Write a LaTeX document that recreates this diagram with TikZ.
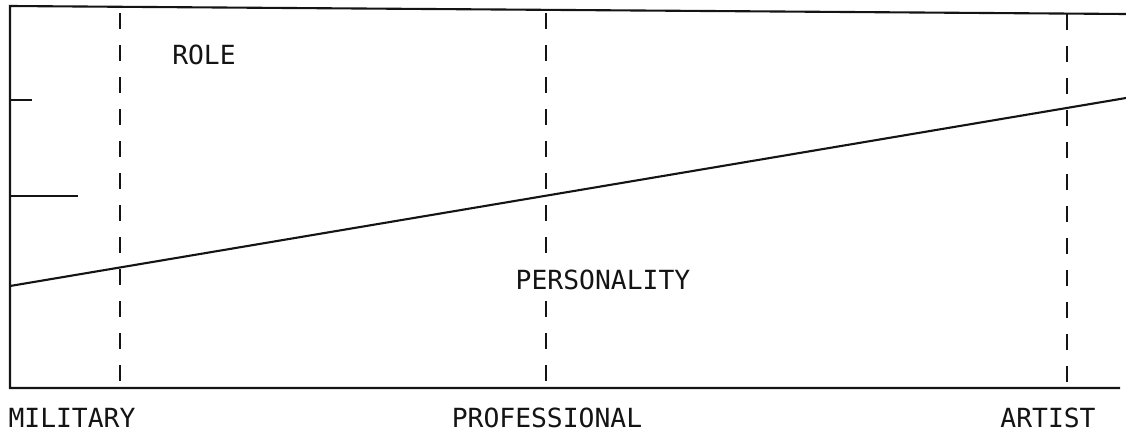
\documentclass[tikz,border=0pt]{standalone}
\usepackage{fontspec}
\setmonofont{DejaVu Sans Mono}
\usepackage{tikz}
\usetikzlibrary{positioning,calc}
\usepackage{xcolor}
\definecolor{inkblack}{RGB}{20,20,20}
\tikzset{
  axisline/.style={line width=1.2pt, inkblack},
  tickline/.style={line width=1.2pt, inkblack},
  divider/.style={line width=1.2pt, inkblack, dash pattern=on 0.32cm off 0.32cm},
  trendline/.style={line width=1.2pt, inkblack},
  caption/.style={font=\fontsize{15}{18}\selectfont\ttfamily, inkblack, fill=white, inner sep=2pt},
}

\begin{document}
\begin{tikzpicture}[x=0.02cm, y=-0.02cm]
\useasboundingbox (0,0) rectangle (1126,439);
% Frame
\coordinate (tl) at (10,6);
\coordinate (bl) at (10,388);
\coordinate (tr) at (1126,14);
\coordinate (br) at (1120,388);
\draw[axisline] (tr) -- (tl) -- (bl) -- (br);
\coordinate (tickA) at (10,100);
\coordinate (tickAend) at (32,100);
\coordinate (tickB) at (10,196);
\coordinate (tickBend) at (78,196);
\draw[tickline] (tickA) -- (tickAend);
\draw[tickline] (tickB) -- (tickBend);

% Dividers
\coordinate (milTop) at (120,13);
\coordinate (milBot) at (120,382);
\coordinate (proTop) at (546,13);
\coordinate (proBot) at (546,382);
\coordinate (artTop) at (1067,14);
\coordinate (artBot) at (1067,386);
\draw[divider] (milTop) -- (milBot);
\draw[divider] (proTop) -- (proBot);
\draw[divider] (artTop) -- (artBot);

% Trend
\coordinate (trendL) at (10,286);
\coordinate (trendR) at (1126,98);
\draw[trendline] (trendL) -- (trendR);

% Labels
\node[caption] (role) at (204,55) {ROLE};
\node[caption] (pers) at (603,280) {PERSONALITY};
\node[caption] (mil) at (72,418) {MILITARY};
\node[caption] (pro) at (547,418) {PROFESSIONAL};
\node[caption] (art) at (1048,418) {ARTIST};
\end{tikzpicture}
\end{document}
